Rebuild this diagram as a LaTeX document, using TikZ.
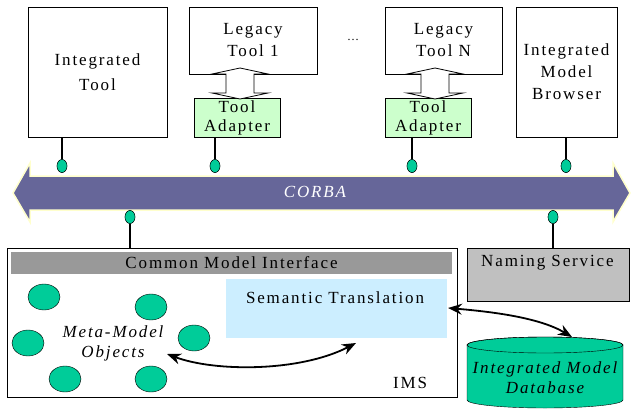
\documentclass[tikz,border=0pt]{standalone}
\usepackage{fontspec}
\setmainfont{Liberation Serif}[LetterSpace=11]
\usetikzlibrary{shapes.geometric,arrows.meta}
\definecolor{corbablue}{HTML}{666699}
\definecolor{corbaedge}{HTML}{FFFFCC}
\definecolor{plugreen}{HTML}{00CC99}
\definecolor{adaptgreen}{HTML}{CCFFCC}
\definecolor{cmigray}{HTML}{999999}
\definecolor{namegray}{HTML}{C0C0C0}
\definecolor{semblue}{HTML}{CCEEFF}
\begin{document}
\begin{tikzpicture}[x=1pt, y=-1pt, font=\fontsize{17}{22}\selectfont,
    toolbox/.style={draw, rectangle, align=center, inner sep=0pt},
    adapter/.style={toolbox, fill=adaptgreen, minimum width=86pt, minimum height=39pt,
      font=\fontsize{17}{19}\selectfont},
    plug/.style={ellipse, draw, fill=plugreen, minimum width=10pt, minimum height=13pt, inner sep=0pt},
    stem/.style={line width=2.5pt},
    obj/.style={ellipse, draw, fill=plugreen, minimum width=32pt, minimum height=26pt, inner sep=0pt},
    link/.style={line width=1.8pt, {Stealth[length=14pt,width=11pt]}-{Stealth[length=14pt,width=11pt]}},
    updown/.style={draw, fill=white, line width=0.8pt}]
  \useasboundingbox (0,0) rectangle (631,409);
  % tools
  \node[toolbox, minimum width=139pt, minimum height=130pt] at (97.5,72) (IT) {Integrated\\[3pt]Tool};
  \node[toolbox, minimum width=128pt, minimum height=67pt] at (253,40.5) (L1) {Legacy\\Tool 1};
  \node at (353,40) (dots) {\fontsize{12}{12}\selectfont\dots};
  \node[toolbox, minimum width=117pt, minimum height=67pt] at (443.5,40.5) (LN) {Legacy\\Tool N};
  \node[toolbox, minimum width=101pt, minimum height=130pt] at (566.5,72) (IMB) {Integrated\\Model\\Browser};
  % adapters
  \node[adapter] at (237,117.5) (A1) {Tool\\Adapter};
  \node[adapter] at (428,117.5) (AN) {Tool\\Adapter};
  \foreach \c in {240,435}
    \draw[updown, shift={(\c,0)}] (0,68) -- (28,74) -- (14,74) -- (14,93) -- (28,93) -- (0,99)
      -- (-28,93) -- (-14,93) -- (-14,74) -- (-28,74) -- cycle;
  % bus
  \draw[fill=corbablue, draw=corbaedge, line width=1.5pt] (13,193) -- (30,163) -- (30,176) -- (613,176)
    -- (613,163) -- (630,193) -- (613,222) -- (613,210) -- (30,210) -- (30,222) -- cycle;
  \node[text=white] at (315,192) (corba) {\itshape CORBA};
  % plugs on the bus
  \node[plug] at (62,166) (p1) {};
  \node[plug] at (215,166) (p2) {};
  \node[plug] at (412,166) (p3) {};
  \node[plug] at (566,166) (p4) {};
  \node[plug] at (130,217) (p5) {};
  \node[plug] at (553,217) (p6) {};
  % IMS
  \node[toolbox, minimum width=450pt, minimum height=149pt] at (232,322.5) (ims) {};
  \node[fill=cmigray, minimum width=441pt, minimum height=22pt, inner sep=0pt] at (231.5,263) (cmi) {Common Model Interface};
  \node[fill=semblue, minimum width=221pt, minimum height=59pt, inner sep=0pt] at (336.5,308.5) (sem) {};
  \node at (335,298) (semtxt) {Semantic Translation};
  \node at (410,383) (imstxt) {IMS};
  \node[obj] at (44,297) (o1) {};
  \node[obj] at (151,307) (o2) {};
  \node[obj] at (28,343) (o3) {};
  \node[obj] at (194,338) (o4) {};
  \node[obj] at (65,379) (o5) {};
  \node[obj] at (151,379) (o6) {};
  \node[align=center, font=\fontsize{17}{20}\selectfont\itshape] at (113,343) (meta) {Meta-Model\\Objects};
  % naming service and database
  \node[toolbox, fill=namegray, minimum width=162pt, minimum height=53pt] at (548,274.5) (ns) {};
  \node[anchor=west, inner sep=0pt] at (481,263) (nstxt) {Naming Service};
  \draw[fill=plugreen] (467,345) -- (467,400) arc[start angle=180, end angle=360, x radius=78pt, y radius=8pt]
    -- (623,345) arc[start angle=0, end angle=180, x radius=78pt, y radius=8pt] -- cycle;
  \draw (545,345) ellipse[x radius=78pt, y radius=8pt];
  \node[align=center, font=\fontsize{17}{20}\selectfont\itshape] at (545,378) (db) {Integrated Model\\Database};
  \coordinate (dbtop) at (572,337);
  % stems
  \draw[stem] (IT.south -| p1) -- (p1);
  \draw[stem] (A1.south -| p2) -- (p2);
  \draw[stem] (AN.south -| p3) -- (p3);
  \draw[stem] (IMB.south -| p4) -- (p4);
  \draw[stem] (p5) -- (ims.north -| p5);
  \draw[stem] (p6) -- (ns.north -| p6);
  \node[plug] at (p1) {};
  \node[plug] at (p2) {};
  \node[plug] at (p3) {};
  \node[plug] at (p4) {};
  \node[plug] at (p5) {};
  \node[plug] at (p6) {};
  % translations
  \coordinate (m1) at (167,354);
  \coordinate (m2) at (356,343);
  \coordinate (s1) at (448,308);
  \draw[link] (m1) .. controls (215,372) and (300,372) .. (m2);
  \draw[link] (s1) .. controls (495,312) and (540,318) .. (dbtop);
\end{tikzpicture}
\end{document}
